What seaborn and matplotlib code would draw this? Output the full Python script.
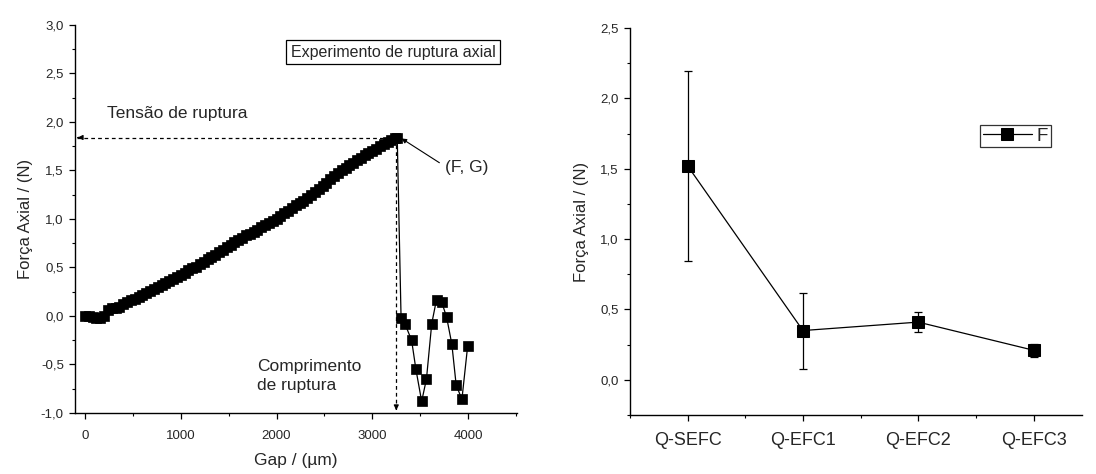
import matplotlib
matplotlib.use("Agg")
import matplotlib.pyplot as plt
import seaborn as sns
import pandas as pd
from matplotlib.ticker import FuncFormatter, MultipleLocator

sns.set_theme(style="ticks")
plt.rcParams['font.family'] = ['Liberation Sans', 'DejaVu Sans']

# ---------- data: left panel (axial rupture experiment) ----------
gap_load = [0, 40, 80, 120, 160, 200, 240, 280, 320, 360, 400, 440, 480, 520, 560, 600,
            640, 680, 720, 760, 800, 840, 880, 920, 960, 1000, 1040, 1080, 1120, 1160, 1200,
            1240, 1280, 1320, 1360, 1400, 1440, 1480, 1520, 1560, 1600, 1640, 1680, 1720,
            1760, 1800, 1840, 1880, 1920, 1960, 2000, 2040, 2080, 2120, 2160, 2200, 2240,
            2280, 2320, 2360, 2400, 2440, 2480, 2520, 2560, 2600, 2640, 2680, 2720, 2760,
            2800, 2840, 2880, 2920, 2960, 3000, 3040, 3080, 3120, 3160, 3200, 3240, 3260]
force_load = [0.00, 0.00, -0.01, -0.02, -0.02, 0.00, 0.06, 0.08, 0.08, 0.09, 0.12, 0.14,
              0.16, 0.18, 0.20, 0.22, 0.24, 0.26, 0.28, 0.30, 0.32, 0.34, 0.36, 0.38, 0.40,
              0.42, 0.44, 0.47, 0.49, 0.51, 0.54, 0.56, 0.59, 0.61, 0.63, 0.66, 0.68, 0.71,
              0.73, 0.76, 0.78, 0.80, 0.83, 0.85, 0.87, 0.89, 0.92, 0.94, 0.96, 0.98, 1.00,
              1.03, 1.06, 1.08, 1.11, 1.14, 1.16, 1.19, 1.22, 1.25, 1.28, 1.31, 1.34, 1.37,
              1.41, 1.44, 1.47, 1.50, 1.53, 1.56, 1.58, 1.61, 1.63, 1.66, 1.68, 1.70, 1.72,
              1.75, 1.77, 1.79, 1.81, 1.83, 1.84]
gap_after = [3300, 3340, 3410, 3455, 3515, 3565, 3620, 3670, 3725, 3775, 3830, 3875, 3935, 3995]
force_after = [-0.02, -0.08, -0.25, -0.55, -0.88, -0.65, -0.08, 0.17, 0.14, -0.01, -0.29,
               -0.71, -0.86, -0.31]
rupture_gap = 3260
rupture_force = 1.84

# ---------- data: right panel ----------
samples = ["Q-SEFC", "Q-EFC1", "Q-EFC2", "Q-EFC3"]
force_mean = [1.52, 0.35, 0.41, 0.21]
force_err = [0.675, 0.27, 0.07, 0.045]

comma = FuncFormatter(lambda v, p: f"{v:.1f}".replace('.', ','))

fig = plt.figure(figsize=(10.96, 4.74), dpi=100)
ax1 = fig.add_axes([0.0684, 0.1287, 0.4033, 0.8186])
ax2 = fig.add_axes([0.5748, 0.1245, 0.4124, 0.8165])

# ----- left panel -----
df1 = pd.DataFrame({"gap": gap_load + gap_after, "force": force_load + force_after})
sns.lineplot(data=df1, x="gap", y="force", ax=ax1, color="black", lw=0.9,
             marker="s", markersize=7, markeredgecolor="black", mew=0.5,
             sort=False, estimator=None)
ax1.set_xlim(-104, 4510)
ax1.set_ylim(-1.0, 3.0)
ax1.xaxis.set_major_locator(MultipleLocator(1000))
ax1.xaxis.set_minor_locator(MultipleLocator(500))
ax1.yaxis.set_major_locator(MultipleLocator(0.5))
ax1.yaxis.set_minor_locator(MultipleLocator(0.25))
ax1.yaxis.set_major_formatter(comma)
ax1.set_xlabel("Gap / (µm)", fontsize=12.5, labelpad=8)
ax1.set_ylabel("Força Axial / (N)", fontsize=12, labelpad=6)

# dashed guides
ax1.plot([rupture_gap, -95], [rupture_force, rupture_force], ls=(0, (3, 2.5)), color="black", lw=0.9)
ax1.annotate("", xy=(-104, rupture_force), xytext=(-40, rupture_force),
             arrowprops=dict(arrowstyle="-|>", color="black", lw=0.9, mutation_scale=7))
ax1.plot([rupture_gap - 10, rupture_gap - 10], [rupture_force, -0.96], ls=(0, (3, 2.5)), color="black", lw=0.9)
ax1.annotate("", xy=(rupture_gap - 10, -1.0), xytext=(rupture_gap - 10, -0.92),
             arrowprops=dict(arrowstyle="-|>", color="black", lw=0.9, mutation_scale=7))
ax1.annotate("", xy=(rupture_gap + 45, rupture_force - 0.01), xytext=(3700, 1.58),
             arrowprops=dict(arrowstyle="-|>", color="black", lw=0.8, mutation_scale=7,
                             shrinkA=0, shrinkB=0))
ax1.text(3990, 1.53, "(F, G)", fontsize=12.5, ha="center", va="center")
ax1.text(230, 2.09, "Tensão de ruptura", fontsize=12.5, ha="left", va="center")
ax1.text(1795, -0.615, "Comprimento\nde ruptura", fontsize=12.5, ha="left", va="center",
         linespacing=1.35)
ax1.text(3215, 2.72, "Experimento de ruptura axial", fontsize=11.5, ha="center", va="center",
         bbox=dict(boxstyle="square,pad=0.3", fc="white", ec="black", lw=0.9))

# ----- right panel -----
df2 = pd.DataFrame({"pos": list(range(len(samples))), "F": force_mean})
ax2.errorbar(df2["pos"], force_mean, yerr=force_err, fmt="none", ecolor="black",
             elinewidth=0.9, capsize=3, capthick=0.9)
sns.lineplot(data=df2, x="pos", y="F", ax=ax2, color="black", lw=0.9, marker="s",
             markersize=8, markeredgecolor="black", label="F", estimator=None)
ax2.set_xlim(-0.5, 3.42)
ax2.set_ylim(-0.25, 2.5)
ax2.set_xticks(range(len(samples)))
ax2.set_xticklabels(samples)
ax2.xaxis.set_minor_locator(MultipleLocator(0.5))
ax2.yaxis.set_major_locator(MultipleLocator(0.5))
ax2.yaxis.set_minor_locator(MultipleLocator(0.25))
ax2.yaxis.set_major_formatter(comma)
ax2.set_xlabel("")
ax2.set_ylabel("Força Axial / (N)", fontsize=12, labelpad=8)
leg = ax2.legend(loc="upper left", bbox_to_anchor=(0.775, 0.75), frameon=True, fancybox=False,
                 fontsize=13.5, handlelength=2.6, handletextpad=0.25, borderpad=0.15,
                 borderaxespad=0)
leg.get_frame().set_edgecolor("black")
leg.get_frame().set_linewidth(0.9)

for ax in (ax1, ax2):
    sns.despine(ax=ax)
    ax.spines["left"].set_linewidth(1.0)
    ax.spines["bottom"].set_linewidth(1.0)
    ax.spines["left"].set_color("black")
    ax.spines["bottom"].set_color("black")
    ax.tick_params(which="major", direction="out", length=4, width=0.9, color="black",
                   labelsize=9.5, pad=4)
    ax.tick_params(which="minor", direction="out", length=2.5, width=0.8, color="black")
ax2.tick_params(axis="x", which="major", labelsize=13, pad=8)
ax1.tick_params(axis="x", which="major", pad=8)

fig.savefig("out.png", dpi=100)
